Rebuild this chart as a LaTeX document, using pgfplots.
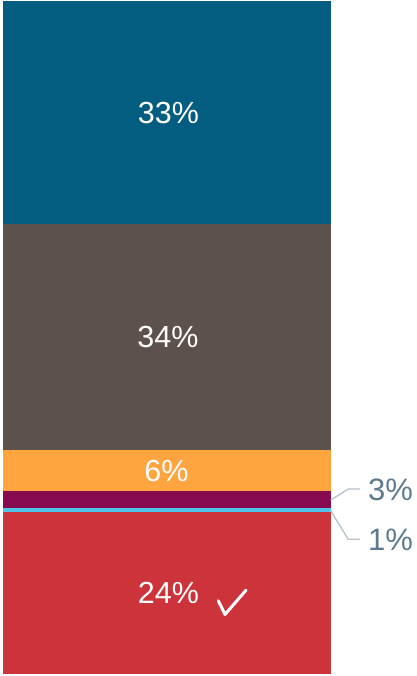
\documentclass[border=0pt]{standalone}
\usepackage{fontspec}
\setmainfont{Liberation Sans}
\usepackage{pgfplots}
\pgfplotsset{compat=1.18}
\definecolor{cblue}{HTML}{025D80}
\definecolor{cbrown}{HTML}{5D514D}
\definecolor{corange}{HTML}{FFA540}
\definecolor{cpurple}{HTML}{850A50}
\definecolor{clight}{HTML}{4FC3E8}
\definecolor{cred}{HTML}{CC333B}
\definecolor{ctext}{HTML}{5E7A8F}
\definecolor{cline}{HTML}{B5C2CC}
\begin{document}
\begin{tikzpicture}[x=1pt, y=6.73pt]
\useasboundingbox (-3,-0.297) rectangle (413,100.15);
\begin{axis}[
  at={(0pt,0pt)}, anchor=origin,
  scale only axis, width=327.7pt, height=673pt,
  xmin=0, xmax=327.7, ymin=0, ymax=100,
  axis lines=none, ticks=none,
  ybar stacked, bar width=327.7pt,
  clip=false,
]
\addplot[fill=cred, draw=none] coordinates {(163.85,24.0)};
\addplot[fill=clight, draw=none] coordinates {(163.85,0.74)};
\addplot[fill=cpurple, draw=none] coordinates {(163.85,2.38)};
\addplot[fill=corange, draw=none] coordinates {(163.85,6.2)};
\addplot[fill=cbrown, draw=none] coordinates {(163.85,33.48)};
\addplot[fill=cblue, draw=none] coordinates {(163.85,33.2)};
\end{axis}
\node[white, font=\fontsize{30.5}{30.5}\selectfont] at (165.5,11.98) {24\%};
\node[white, font=\fontsize{30.5}{30.5}\selectfont] at (163.5,30.18) {6\%};
\node[white, font=\fontsize{30.5}{30.5}\selectfont] at (165,50.0) {34\%};
\node[white, font=\fontsize{30.5}{30.5}\selectfont] at (165.5,83.37) {33\%};
\draw[white, line width=3pt, line cap=round, line join=round]
  (243,12.45) -- (222,8.85) -- (215.3,10.89);
\draw[cline, line width=1.3pt] (327.7,25.85) -- (345.3,27.49) -- (357,27.49);
\draw[cline, line width=1.3pt] (327.7,24.26) -- (345.3,20.01) -- (357,20.01);
\node[ctext, anchor=west, inner sep=0pt, font=\fontsize{31}{31}\selectfont] at (365,27.4) {3\%};
\node[ctext, anchor=west, inner sep=0pt, font=\fontsize{31}{31}\selectfont] at (365,19.95) {1\%};
\end{tikzpicture}
\end{document}
